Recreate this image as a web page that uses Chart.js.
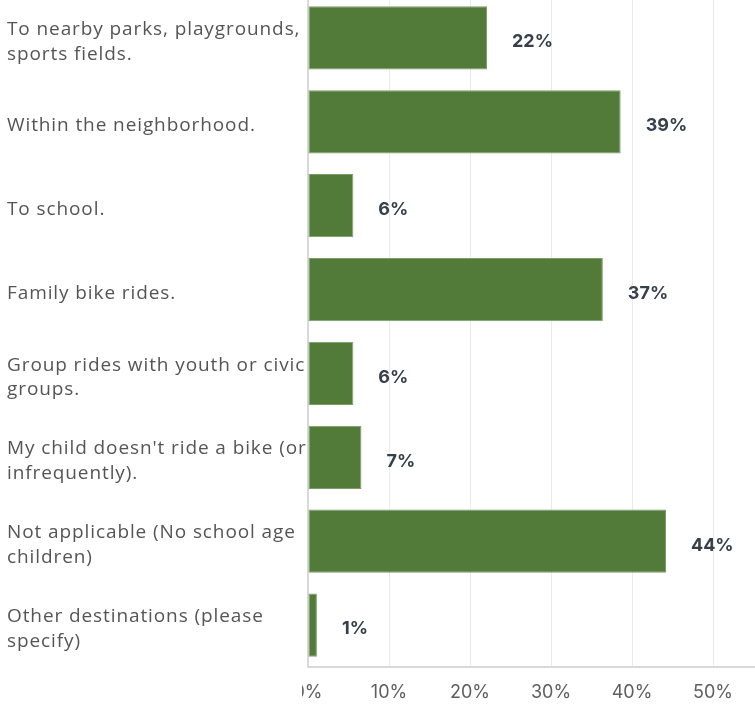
<!DOCTYPE html>
<html>
<head>
<meta charset="utf-8">
<script src="https://cdn.jsdelivr.net/npm/chart.js@4/dist/chart.umd.min.js"></script>
<style>
  html, body { margin: 0; padding: 0; background: #fff; overflow: hidden; width: 755px; height: 707px; }
  #c { position: absolute; left: 0; top: -4px; }
</style>
</head>
<body>
<canvas id="c" width="800" height="711"></canvas>
<script>
const categories = [
  ["To nearby parks, playgrounds,", "sports fields."],
  "Within the neighborhood.",
  "To school.",
  "Family bike rides.",
  ["Group rides with youth or civic", "groups."],
  ["My child doesn't ride a bike (or", "infrequently)."],
  ["Not applicable (No school age", "children)"],
  ["Other destinations (please", "specify)"]
];
const percentValues = [22.1, 38.6, 5.6, 36.4, 5.6, 6.6, 44.2, 1.1];
const valueLabels = ["22%", "39%", "6%", "37%", "6%", "7%", "44%", "1%"];
const xTickStep = 10;
const xMax = 60;

const labelPlugin = {
  id: 'labels',
  beforeDatasetsDraw(chart) {
    // category labels, left aligned, drawn under the bars
    const ctx = chart.ctx;
    const y = chart.scales.y;
    ctx.save();
    ctx.font = '19px "Open Sans", sans-serif';
    if ('letterSpacing' in ctx) ctx.letterSpacing = '0.9px';
    ctx.fillStyle = '#555555';
    ctx.textAlign = 'left';
    ctx.textBaseline = 'middle';
    const lh = 24.5;
    categories.forEach((lab, i) => {
      const lines = Array.isArray(lab) ? lab : [lab];
      const cy = y.getPixelForTick(i) + 4;
      const start = cy - (lines.length - 1) * lh / 2;
      lines.forEach((t, j) => ctx.fillText(t, y.left, start + j * lh));
    });
    ctx.restore();
  },
  afterDatasetsDraw(chart) {
    const ctx = chart.ctx;
    const meta = chart.getDatasetMeta(0);
    ctx.save();
    if ('letterSpacing' in ctx) ctx.letterSpacing = '0px';
    ctx.font = 'bold 18px Inter, "DejaVu Sans", sans-serif';
    ctx.fillStyle = '#36404b';
    ctx.textAlign = 'left';
    ctx.textBaseline = 'middle';
    meta.data.forEach((bar, i) => {
      ctx.fillText(valueLabels[i], bar.x + 25, bar.y + 4);
    });
    ctx.restore();
  },
  afterDraw(chart) {
    // clip the left part of the first x tick label as in the reference
    const ctx = chart.ctx;
    const a = chart.chartArea;
    ctx.save();
    ctx.fillStyle = '#ffffff';
    ctx.fillRect(0, a.bottom + 2, a.left - 6, chart.height - a.bottom);
    ctx.restore();
  }
};

new Chart(document.getElementById('c'), {
  type: 'bar',
  data: {
    labels: categories,
    datasets: [{
      data: percentValues,
      backgroundColor: '#527a39',
      borderColor: '#7f9d6c',
      borderWidth: 1,
      borderSkipped: false,
      barPercentage: 0.755,
      categoryPercentage: 1.0
    }]
  },
  options: {
    indexAxis: 'y',
    responsive: false,
    animation: false,
    layout: { padding: { left: 7, right: 6, top: 0, bottom: 0 } },
    plugins: {
      legend: { display: false },
      tooltip: { enabled: false }
    },
    scales: {
      x: {
        min: 0,
        max: xMax,
        ticks: {
          stepSize: xTickStep,
          callback: v => v + '%',
          color: '#5f5f5f',
          font: { family: 'Inter, "DejaVu Sans", sans-serif', size: 18 },
          padding: 15,
          maxRotation: 0
        },
        grid: { color: '#ebebeb', drawTicks: false, lineWidth: 1 },
        border: { display: true, color: '#d9d9d9', width: 2 },
        afterFit(scale) { scale.height = 40; scale.paddingLeft = 0; scale.paddingRight = 0; }
      },
      y: {
        ticks: { display: false, autoSkip: false },
        grid: { display: false, drawTicks: false },
        border: { display: true, color: '#d9d9d9', width: 2 },
        afterFit(scale) { scale.width = 301; scale.paddingTop = 0; scale.paddingBottom = 0; }
      }
    }
  },
  plugins: [labelPlugin]
});
</script>
</body>
</html>
